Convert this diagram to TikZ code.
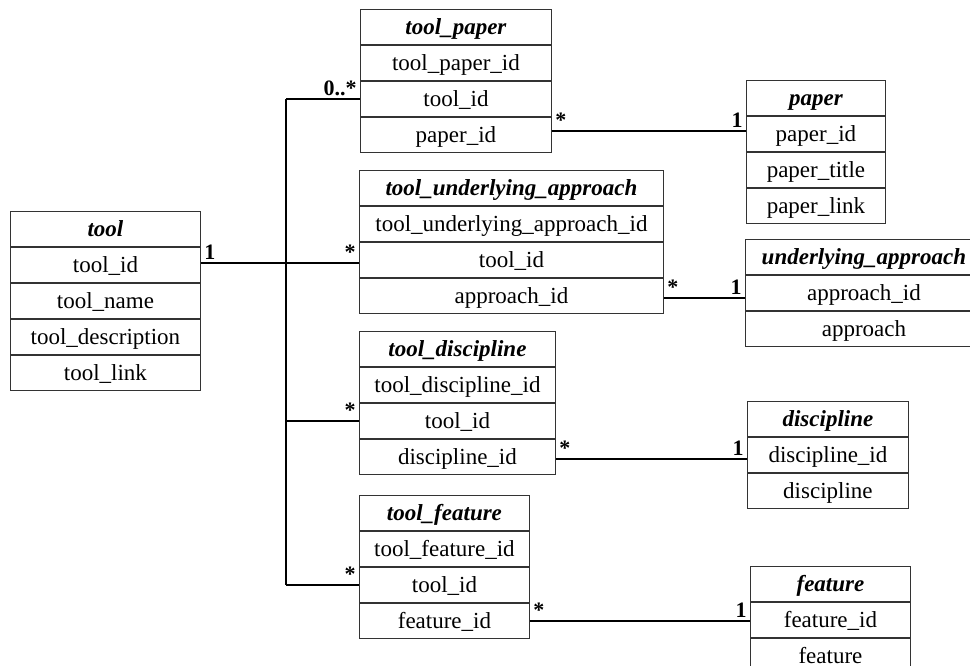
\documentclass[tikz,border=0pt]{standalone}
\usepackage{fontspec}
\setmainfont{Liberation Serif}
\newcommand\rowfont{\fontsize{23}{23}\selectfont}
\newcommand\hdrfont{\fontsize{23}{23}\selectfont\bfseries\itshape}
\newcommand\multfont{\fontsize{22}{22}\selectfont\bfseries}
\tikzset{
  cell/.style={draw=black!80, line width=0.9pt, minimum height=35, inner sep=0pt,
    anchor=north west, text height=19pt, text depth=3pt, font=\rowfont},
  hdr/.style={cell, font=\hdrfont},
  conn/.style={draw=black, line width=1.8pt},
  mult/.style={font=\multfont, inner sep=2.5pt}
}
\newcommand\ertable[6]{%
  \node[hdr, minimum width=#4] (#1-0) at (#2,#3) {#5};
  \foreach \r [count=\i from 1, remember=\i as \j (initially 0)] in {#6}{
    \node[cell, minimum width=#4] (#1-\i) at (#1-\j.south west) {\r};
  }%
}
\begin{document}
\begin{tikzpicture}[x=1pt,y=-1pt]
\clip (0,0) rectangle (970,666);
\fill[white] (0,0) rectangle (970,666);

\ertable{tool}{10}{211}{190}{tool}{tool\_id,tool\_name,tool\_description,tool\_link}
\ertable{tp}{360}{9}{191}{tool\_paper}{tool\_paper\_id,tool\_id,paper\_id}
\ertable{paper}{746}{80}{139}{paper}{paper\_id,paper\_title,paper\_link}
\ertable{tua}{359}{170}{304}{tool\_underlying\_approach}{tool\_underlying\_approach\_id,tool\_id,approach\_id}
\ertable{ua}{745}{239}{237}{underlying\_approach}{approach\_id,approach}
\ertable{td}{359}{331}{196}{tool\_discipline}{tool\_discipline\_id,tool\_id,discipline\_id}
\ertable{disc}{747}{401}{161}{discipline}{discipline\_id,discipline}
\ertable{tf}{359}{495}{170}{tool\_feature}{tool\_feature\_id,tool\_id,feature\_id}
\ertable{feat}{750}{566}{160}{feature}{feature\_id,feature}

% bus from tool to the link tables
\coordinate (busx) at (286,0);
\coordinate (bus-t) at (tp-2.west -| busx);
\coordinate (bus-b) at (tf-2.west -| busx);
\draw[conn] (bus-t) -- (bus-b);
\draw[conn] ([yshift=1.5pt]tool-1.east)
  -- node[mult, pos=0, anchor=south west] {1}
     node[mult, pos=1, anchor=south east] {*}
  ([yshift=1.5pt]tool-1.east -| tua-2.west);
\draw[conn] (bus-t) -- node[mult, pos=1, anchor=south east] {0..*} (tp-2.west);
\draw[conn] (td-2.west -| busx) -- node[mult, pos=1, anchor=south east] {*} (td-2.west);
\draw[conn] (bus-b) -- node[mult, pos=1, anchor=south east] {*} (tf-2.west);

% link tables to the lookup tables
\draw[conn] ([yshift=3.5pt]tp-3.east)
  -- node[mult, pos=0, anchor=south west] {*}
     node[mult, pos=1, anchor=south east] {1}
  ([yshift=3.5pt]tp-3.east -| paper-1.west);
\draw[conn] ([yshift=-2pt]tua-3.east)
  -- node[mult, pos=0, anchor=south west] {*}
     node[mult, pos=1, anchor=south east] {1}
  ([yshift=-2pt]tua-3.east -| ua-1.west);
\draw[conn] ([yshift=-2.5pt]td-3.east)
  -- node[mult, pos=0, anchor=south west] {*}
     node[mult, pos=1, anchor=south east] {1}
  ([yshift=-2.5pt]td-3.east -| disc-1.west);
\draw[conn] (tf-3.east)
  -- node[mult, pos=0, anchor=south west] {*}
     node[mult, pos=1, anchor=south east] {1}
  (tf-3.east -| feat-1.west);
\end{tikzpicture}
\end{document}
